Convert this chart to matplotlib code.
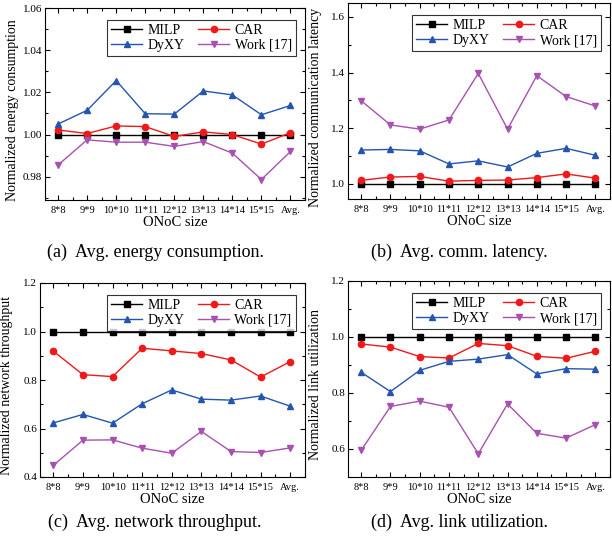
import numpy as np
import matplotlib
matplotlib.use("Agg")
import matplotlib.pyplot as plt
from matplotlib.ticker import MultipleLocator, FormatStrFormatter

plt.rcParams['font.family'] = ['Liberation Serif', 'DejaVu Serif']

# --- Data ---
sizes = ["8*8", "9*9", "10*10", "11*11", "12*12", "13*13", "14*14", "15*15", "Avg."]

# (a) normalized energy consumption
energy_milp = [1.0, 1.0, 1.0, 1.0, 1.0, 1.0, 1.0, 1.0, 1.0]
energy_car = [1.0022, 1.0005, 1.0041, 1.0038, 0.9991, 1.0013, 1.0000, 0.9955, 1.0009]
energy_dyxy = [1.0050, 1.0115, 1.0256, 1.0099, 1.0097, 1.0207, 1.0188, 1.0094, 1.0138]
energy_work = [0.9856, 0.9975, 0.9964, 0.9964, 0.9944, 0.9967, 0.9912, 0.9787, 0.9920]

# (b) normalized communication latency
lat_milp = [1.0, 1.0, 1.0, 1.0, 1.0, 1.0, 1.0, 1.0, 1.0]
lat_car = [1.013, 1.025, 1.027, 1.010, 1.013, 1.014, 1.023, 1.036, 1.021]
lat_dyxy = [1.122, 1.124, 1.119, 1.072, 1.083, 1.061, 1.110, 1.128, 1.103]
lat_work = [1.299, 1.212, 1.197, 1.230, 1.397, 1.197, 1.389, 1.314, 1.280]

# (c) normalized network throughput
thr_milp = [1.0, 1.0, 1.0, 1.0, 1.0, 1.0, 1.0, 1.0, 1.0]
thr_car = [0.919, 0.822, 0.814, 0.931, 0.920, 0.909, 0.883, 0.812, 0.876]
thr_dyxy = [0.623, 0.658, 0.622, 0.702, 0.759, 0.721, 0.717, 0.734, 0.692]
thr_work = [0.448, 0.552, 0.553, 0.519, 0.498, 0.588, 0.505, 0.501, 0.520]

# (d) normalized link utilization
link_milp = [1.0, 1.0, 1.0, 1.0, 1.0, 1.0, 1.0, 1.0, 1.0]
link_car = [0.975, 0.964, 0.930, 0.925, 0.977, 0.969, 0.931, 0.924, 0.949]
link_dyxy = [0.874, 0.805, 0.881, 0.913, 0.921, 0.937, 0.868, 0.887, 0.885]
link_work = [0.595, 0.752, 0.771, 0.749, 0.583, 0.761, 0.656, 0.639, 0.687]

W, H = 612, 543
fig = plt.figure(figsize=(W / 100, H / 100), dpi=100)

def box(l, r, t, b):
    # pixel box -> figure fraction
    return [l / W, 1 - b / H, (r - l) / W, (b - t) / H]

panels = [
    (box(45, 305, 8, 200), energy_milp, energy_car, energy_dyxy, energy_work,
     (0.969, 1.06), 0.02, 0.01, "%.2f", "Normalized energy consumption",
     "(a)  Avg. energy consumption.", 155, 252),
    (box(348, 610, 3, 199), lat_milp, lat_car, lat_dyxy, lat_work,
     (0.946, 1.65), 0.2, 0.1, "%.1f", "Normalized communication latency",
     "(b)  Avg. comm. latency.", 459, 252),
    (box(40, 305, 283, 477), thr_milp, thr_car, thr_dyxy, thr_work,
     (0.4, 1.2), 0.2, 0.1, "%.1f", "Normalized network throughput",
     "(c)  Avg. network throughput.", 155, 522),
    (box(348, 610, 281, 477), link_milp, link_car, link_dyxy, link_work,
     (0.5, 1.2), 0.2, 0.1, "%.1f", "Normalized link utilization",
     "(d)  Avg. link utilization.", 459, 522),
]

x = np.arange(len(sizes))

for pos, milp, car, dyxy, work, ylim, major, minor, fmt, ylabel, caption, cx, cy in panels:
    ax = fig.add_axes(pos)
    h1, = ax.plot(x, milp, color='black', marker='s', ms=4.5, lw=1.0, label='MILP')
    h2, = ax.plot(x, car, color='#f01818', marker='o', ms=4.5, lw=1.0, label='CAR')
    h3, = ax.plot(x, dyxy, color='#2456b0', marker='^', ms=5, lw=1.0, label='DyXY')
    h4, = ax.plot(x, work, color='#a851b0', marker='v', ms=5, lw=1.0, label='Work [17]')

    ax.set_xlim(-0.45, 8.5)
    ax.set_ylim(*ylim)
    ax.set_xticks(x)
    ax.set_xticklabels(sizes)
    ax.xaxis.set_minor_locator(MultipleLocator(0.5))
    ax.yaxis.set_major_locator(MultipleLocator(major))
    ax.yaxis.set_minor_locator(MultipleLocator(minor))
    ax.yaxis.set_major_formatter(FormatStrFormatter(fmt))
    ax.tick_params(which='both', direction='in', top=True, right=True, width=0.8)
    ax.tick_params(axis='x', labelsize=7.5, pad=4)
    ax.tick_params(axis='y', labelsize=8, pad=2)
    ax.tick_params(which='major', length=3.5)
    ax.tick_params(which='minor', length=2)
    for s in ax.spines.values():
        s.set_linewidth(0.8)
    ax.set_xlabel("ONoC size", fontsize=10.5, labelpad=1)
    ax.set_ylabel(ylabel, fontsize=10, labelpad=1)
    ax.yaxis.set_label_coords(-0.1, 0.47)

    # row-wise legend order: MILP, CAR / DyXY, Work
    leg = ax.legend([h1, h3, h2, h4], ['MILP', 'DyXY', 'CAR', 'Work [17]'],
                    ncol=2, loc='upper right', bbox_to_anchor=(0.965, 0.94),
                    fontsize=10, frameon=True, fancybox=False, handlelength=2.2,
                    columnspacing=1.0, handletextpad=0.4, labelspacing=0.15,
                    borderpad=0.3, borderaxespad=0)
    leg.get_frame().set_edgecolor('black')
    leg.get_frame().set_linewidth(0.8)

    fig.text(cx / W, 1 - cy / H, caption, ha='center', va='center', fontsize=13)

fig.savefig("out.png", dpi=100)
